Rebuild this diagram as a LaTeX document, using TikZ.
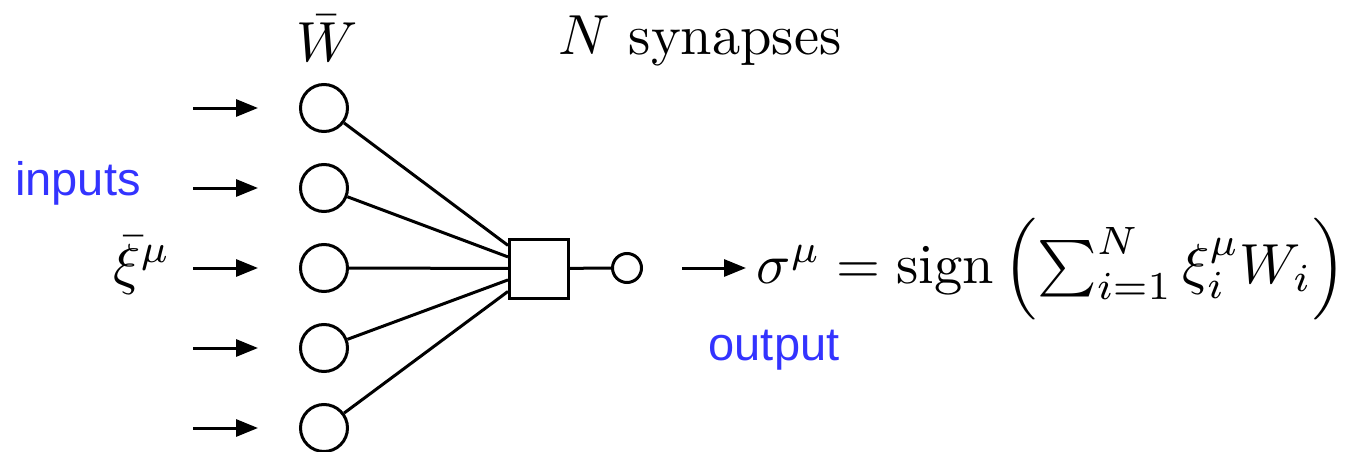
\documentclass[tikz,border=0pt]{standalone}
\usepackage{amsmath}
\usepackage{fontspec}
\newfontfamily\lsans{Liberation Sans}
\usetikzlibrary{arrows.meta}
\definecolor{lblue}{RGB}{51,51,255}
\begin{document}
\begin{tikzpicture}[x=1pt,y=-1pt,line width=3pt,
  neuron/.style={circle,draw,minimum size=47pt,inner sep=0pt},
  soma/.style={rectangle,draw,minimum size=59pt,inner sep=0pt},
  outn/.style={circle,draw,minimum size=29pt,inner sep=0pt},
  inarrow/.style={-{Triangle[length=22pt,width=17pt]}},
  mathtxt/.style={inner sep=0pt,scale=5.65,transform shape},
  bluetxt/.style={inner sep=0pt,text=lblue,font=\fontsize{47}{56}\selectfont\lsans}]
\useasboundingbox (0,0) rectangle (1354,452);
\foreach \i/\y in {1/108,2/188,3/268,4/348,5/428}{
  \node[neuron] (c\i) at (324,\y) {};
  \coordinate (s\i) at (193,\y);
  \coordinate (e\i) at (258,\y);
  \draw[inarrow] (s\i) -- (e\i);
}
\node[soma] (sq) at (539,268.5) {};
\node[outn] (out) at (627,268) {};
\foreach \i in {1,...,5}{\draw (c\i) -- (sq);}
\draw (sq) -- (out);
\coordinate (os) at (682,268);
\coordinate (oe) at (746,268);
\draw[inarrow] (os) -- (oe);
\node[mathtxt,anchor=base] (W) at (327,62) {$\bar W$};
\node[mathtxt,anchor=base] (syn) at (700,55) {$N$ synapses};
\node[mathtxt,anchor=base] (xi) at (142,283) {$\bar\xi^\mu$};
\node[mathtxt,anchor=base west] (f) at (748,283) {$\sigma^\mu = \operatorname{sign}\left(\sum_{i=1}^N \xi_i^\mu W_i\right)$};
\node[bluetxt,anchor=base] (in) at (78,195) {inputs};
\node[bluetxt,anchor=base] (op) at (774,360) {output};
\end{tikzpicture}
\end{document}
